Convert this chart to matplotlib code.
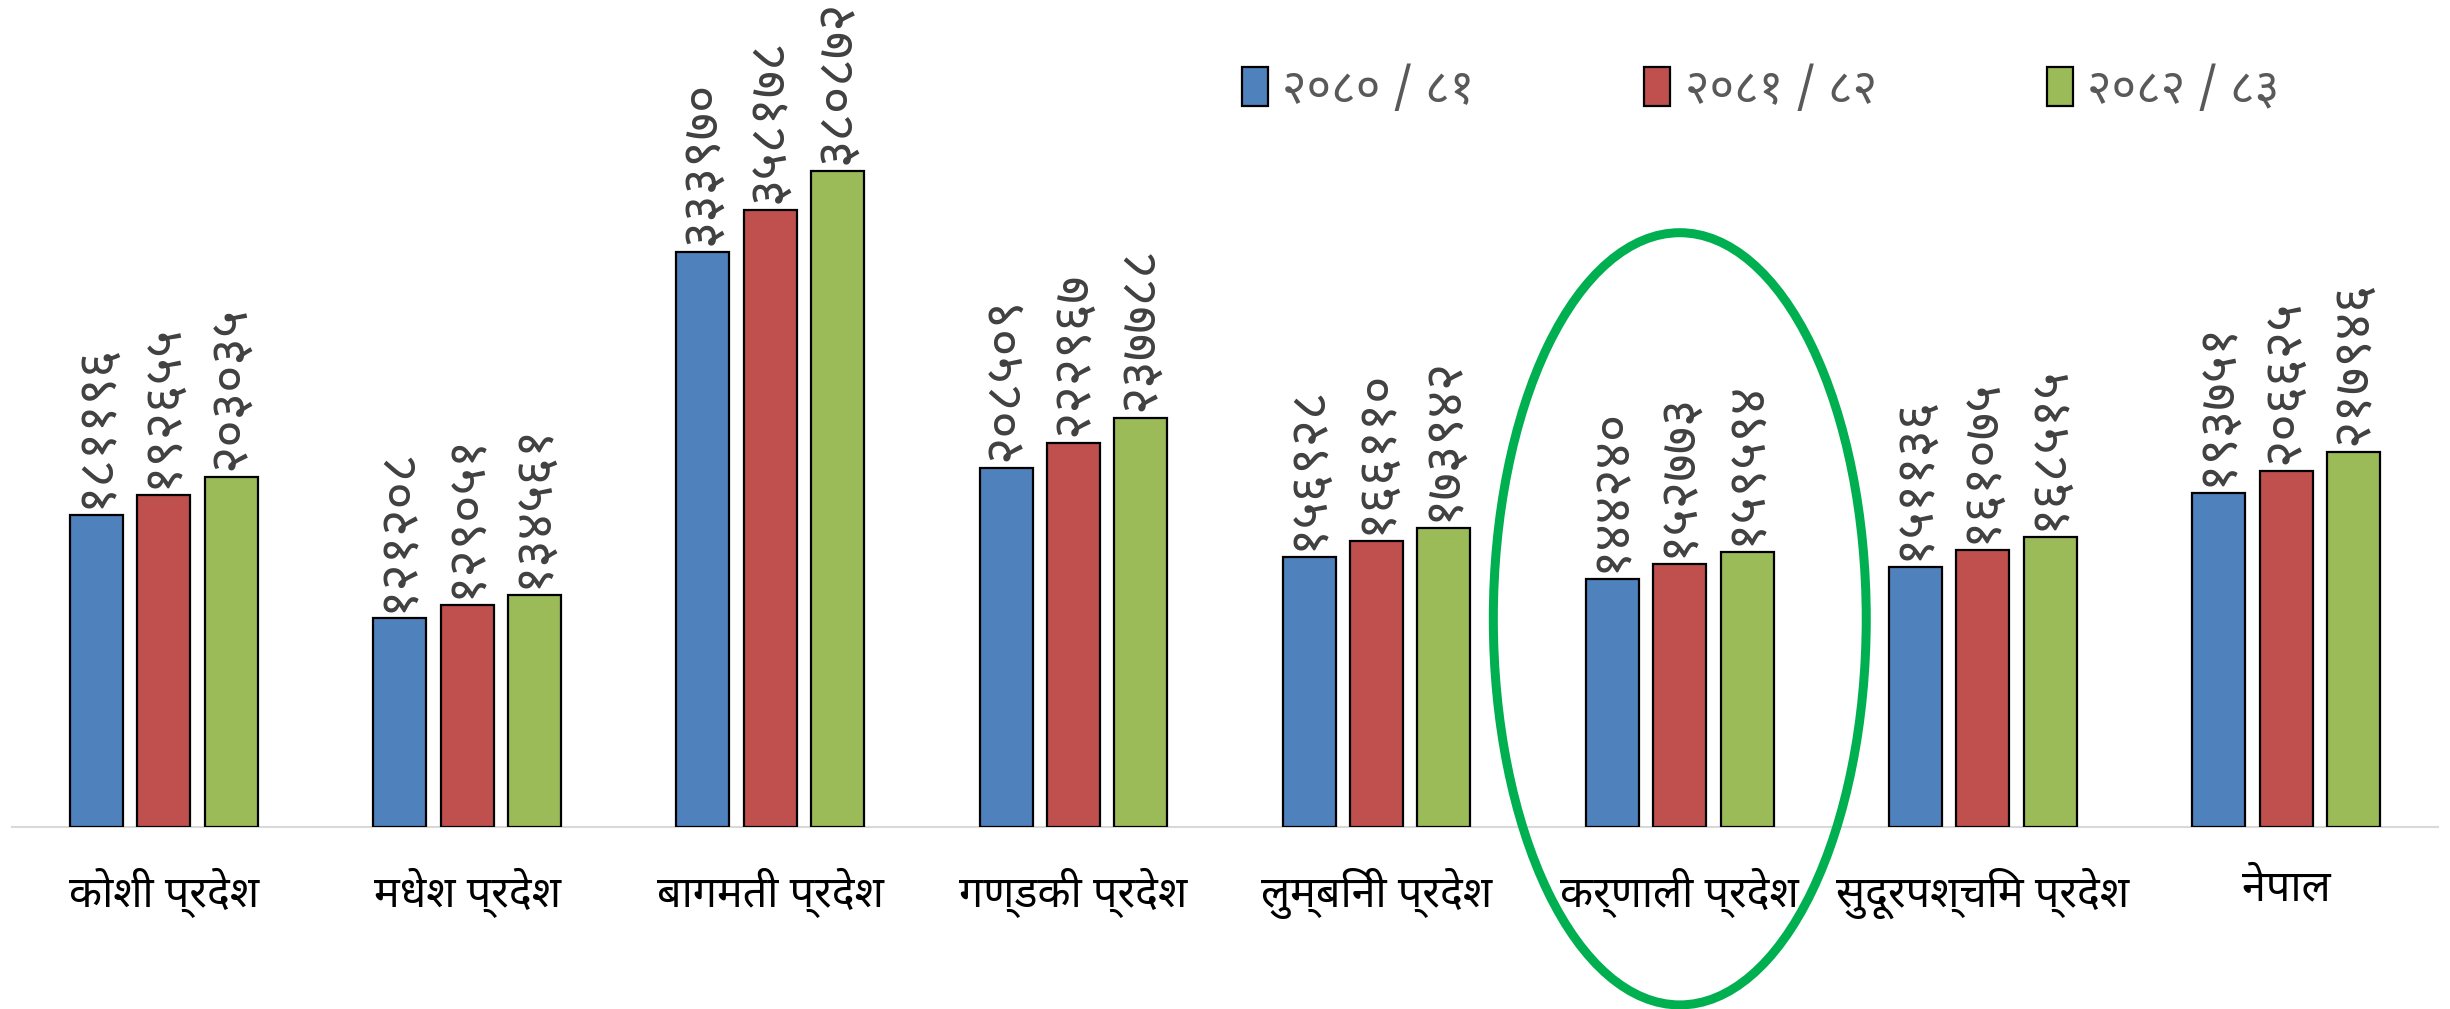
import numpy as np
import matplotlib
matplotlib.use("Agg")
import matplotlib.pyplot as plt
from matplotlib import font_manager
from matplotlib.ft2font import FT2Font
from matplotlib.patches import Ellipse

categories = ["कोशी प्रदेश", "मधेश प्रदेश", "बागमती प्रदेश", "गण्डकी प्रदेश",
              "लुम्बिनी प्रदेश", "कर्णाली प्रदेश", "सुदूरपश्चिम प्रदेश", "नेपाल"]
series_names = ["२०८० / ८१", "२०८१ / ८२", "२०८२ / ८३"]
values_2080 = [181196, 121208, 333970, 208509, 156928, 144240, 151136, 193751]
values_2081 = [192655, 129051, 358178, 222967, 166110, 152773, 161075, 206625]
values_2082 = [203035, 134561, 380872, 237788, 173942, 159594, 168515, 217946]
highlight = "कर्णाली प्रदेश"

colors = ["#4F81BD", "#C0504D", "#9BBB59"]

DEV_DIGITS = str.maketrans("0123456789", "०१२३४५६७८९")


def find_font(ch="क"):
    pref = ["Noto Sans Devanagari", "Lohit Devanagari", "Mangal", "Kokila",
            "FreeSans", "Gargi", "Samanata"]
    found = []
    for f in font_manager.fontManager.ttflist:
        try:
            ft = FT2Font(f.fname)
            if ft.get_char_index(ord(ch)):
                found.append(f.name)
        except Exception:
            pass
    for p in pref:
        if p in found:
            return p
    return found[0] if found else None


dev = find_font()
fam = ([dev] if dev else []) + ["DejaVu Sans"]
plt.rcParams["font.family"] = fam

fig = plt.figure(figsize=(24.5, 10.09), dpi=100)
ax = fig.add_axes([0.005, 0.18, 0.99, 0.82])

x = np.arange(len(categories))
w = 0.175
step = 0.222
all_vals = [values_2080, values_2081, values_2082]
for i, (vals, c, name) in enumerate(zip(all_vals, colors, series_names)):
    pos = x + (i - 1) * step
    ax.bar(pos, vals, width=w, color=c, edgecolor="black", linewidth=1.6,
           label=name, zorder=3)
    for xp, v in zip(pos, vals):
        ax.annotate(str(v).translate(DEV_DIGITS), (xp, v), xytext=(0, 5),
                    textcoords="offset points", rotation=90, ha="center",
                    va="bottom", fontsize=38, color="#404040")

ax.set_xlim(-0.5, 7.5)
ax.set_ylim(0, 480000)
ax.set_xticks(x)
ax.set_xticklabels(categories, fontsize=31, color="black")
ax.tick_params(axis="x", length=0, pad=29)
ax.set_yticks([])
for s in ["top", "right", "left"]:
    ax.spines[s].set_visible(False)
ax.spines["bottom"].set_color("#D9D9D9")
ax.spines["bottom"].set_linewidth(1.5)

leg = ax.legend(loc="upper left", bbox_to_anchor=(0.507, 0.92), ncol=3,
                frameon=False, fontsize=34, handlelength=0.55, handleheight=0.9,
                columnspacing=3.6, handletextpad=0.3, borderpad=0,
                borderaxespad=0)
for t in leg.get_texts():
    t.set_color("#595959")

hi = categories.index(highlight)
ell = Ellipse((x[hi], 121000), width=1.23, height=448000, fill=False,
              edgecolor="#00B050", linewidth=6.5, clip_on=False, zorder=5)
ax.add_patch(ell)

fig.savefig("out.png", dpi=100, facecolor="white")
